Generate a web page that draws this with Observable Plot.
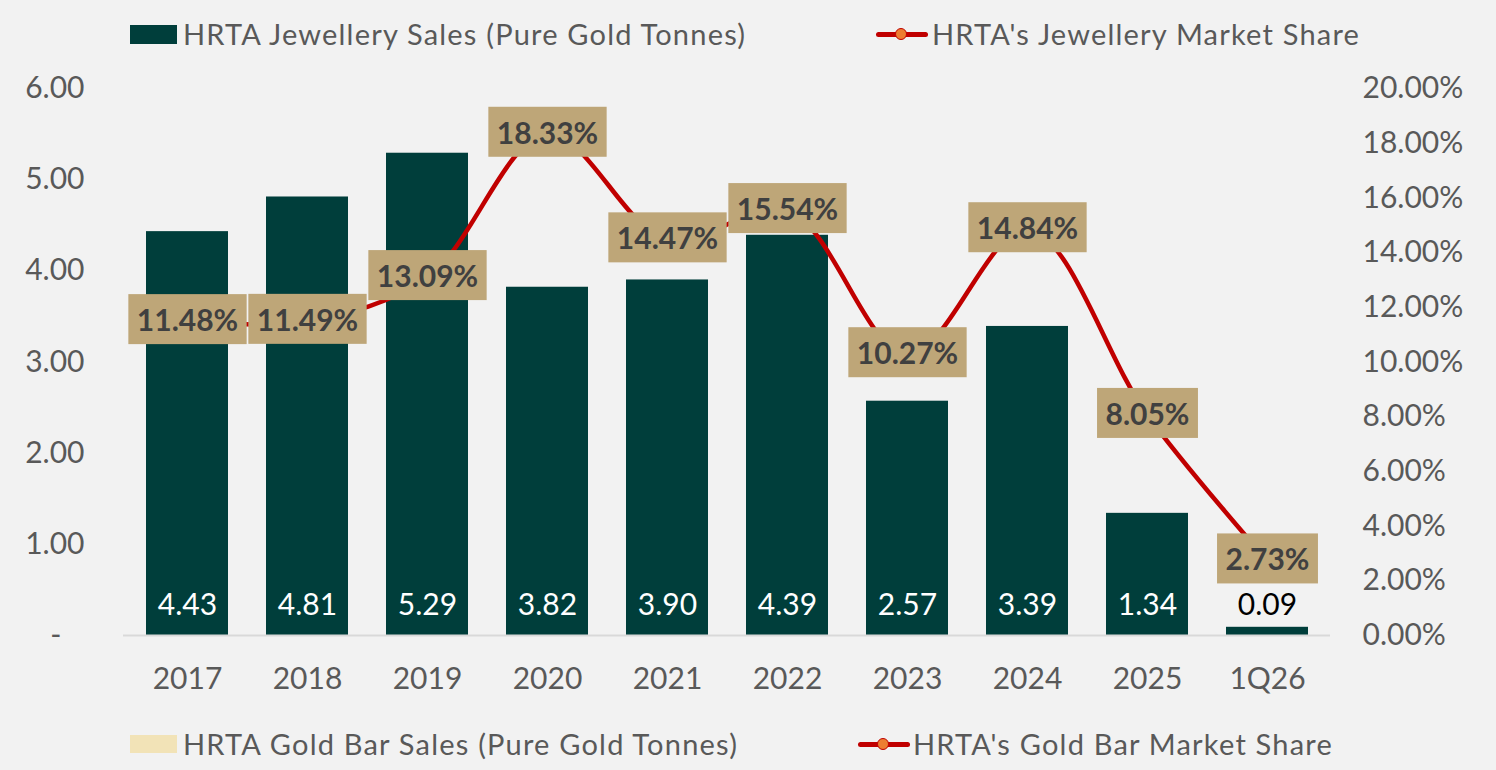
<!DOCTYPE html>
<html><head><meta charset="utf-8">
<script src="https://cdn.jsdelivr.net/npm/d3@7"></script>
<script src="https://cdn.jsdelivr.net/npm/@observablehq/plot@0.6"></script>
<style>
html,body{margin:0;padding:0;background:#f2f2f2;}
#wrap{width:1496px;height:770px;overflow:hidden;font-family:Lato,sans-serif;}
.legrow{position:relative;width:1496px;height:60px;}
.sw{position:absolute;}
.lt{position:absolute;font-size:29px;line-height:29px;letter-spacing:1.2px;color:#595959;white-space:nowrap;}
.ln{position:absolute;height:5px;background:#c00000;border-radius:3px;}
.mk{position:absolute;width:10px;height:10px;border-radius:50%;background:#ed7d31;border:1.5px solid #c00000;}
#chart svg{display:block;}
</style>
</head><body>
<div id="wrap">
  <div class="legrow" id="legTop">
    <div class="sw" style="left:130px;top:25px;width:47px;height:19px;background:#003e3b"></div>
    <div class="lt" style="left:183px;top:18.5px">HRTA Jewellery Sales (Pure Gold Tonnes)</div>
    <div class="ln" style="left:876px;top:32px;width:52px"></div>
    <div class="mk" style="left:895px;top:28px"></div>
    <div class="lt" style="left:932px;top:18.5px">HRTA's Jewellery Market Share</div>
  </div>
  <div id="chart"></div>
  <div class="legrow" id="legBot">
    <div class="sw" style="left:130px;top:25px;width:47px;height:18px;background:#f2e3b7"></div>
    <div class="lt" style="left:183px;top:18.5px">HRTA Gold Bar Sales (Pure Gold Tonnes)</div>
    <div class="ln" style="left:858px;top:32px;width:52px"></div>
    <div class="mk" style="left:877px;top:28px"></div>
    <div class="lt" style="left:913px;top:18.5px">HRTA's Gold Bar Market Share</div>
  </div>
</div>
<script>
const categories = ["2017","2018","2019","2020","2021","2022","2023","2024","2025","1Q26"];
const jewellerySales = [4.43,4.81,5.29,3.82,3.90,4.39,2.57,3.39,1.34,0.09];
const marketShare = [11.48,11.49,13.09,18.33,14.47,15.54,10.27,14.84,8.05,2.73];
const leftTicks = [0,1,2,3,4,5,6];
const rightTicks = [0,2,4,6,8,10,12,14,16,18,20];

// right axis (0–20%) shares the left scale (0–6)
const pctToY = 6 / 20;
const data = categories.map((c, i) => ({cat: c, sales: jewellerySales[i], share: marketShare[i]}));

const plot = Plot.plot({
  width: 1496,
  height: 650,
  marginTop: 28,
  marginBottom: 75,
  marginLeft: 123,
  marginRight: 166,
  style: {background: "#f2f2f2", fontFamily: "Lato, sans-serif", fontSize: "30px", color: "#595959", overflow: "visible"},
  x: {domain: categories, paddingInner: 0.32, paddingOuter: 0.16, label: null},
  y: {domain: [0, 6], label: null},
  marks: [
    Plot.barY(data, {x: "cat", y: "sales", fill: "#003e3b"}),
    Plot.ruleY([0], {stroke: "#d9d9d9", strokeWidth: 2}),
    Plot.axisY(leftTicks, {anchor: "left", tickSize: 0, tickPadding: 39, fontSize: 30, fill: "#595959",
      tickFormat: d => d === 0 ? "-\u00a0\u00a0\u00a0" : d.toFixed(2), label: null}),
    Plot.axisY(rightTicks.map(p => p * pctToY), {anchor: "right", tickSize: 0, tickPadding: 32, fontSize: 30, fill: "#595959",
      tickFormat: d => (d / pctToY).toFixed(2) + "%", label: null}),
    Plot.axisX({tickSize: 0, tickPadding: 32, fontSize: 30, fill: "#595959", label: null}),
    Plot.line(data, {x: "cat", y: d => d.share * pctToY, stroke: "#c00000", strokeWidth: 4.5, curve: "catmull-rom"}),
    Plot.text(data, {x: "cat", y: () => 0, dy: -30, text: d => d.sales.toFixed(2), fontSize: 30,
      fill: d => d.sales < 0.5 ? "#000000" : "#ffffff"}),
    Plot.text(data, {x: "cat", y: d => d.share * pctToY, text: d => d.share.toFixed(2) + "%", fontSize: 30,
      fontWeight: "bold", fill: "#404040", className: "sharelab"})
  ]
});
document.getElementById("chart").appendChild(plot);

// label boxes behind the share labels
const ns = "http://www.w3.org/2000/svg";
plot.querySelectorAll("g.sharelab text").forEach(t => {
  const b = t.getBBox();
  const cy = b.y + b.height / 2;
  const r = document.createElementNS(ns, "rect");
  r.setAttribute("x", b.x - 8.5);
  r.setAttribute("y", cy - 25);
  r.setAttribute("width", b.width + 17);
  r.setAttribute("height", 50);
  r.setAttribute("fill", "#bea678");
  if (t.getAttribute("transform")) r.setAttribute("transform", t.getAttribute("transform"));
  t.parentNode.insertBefore(r, t);
});
</script>
</body></html>
